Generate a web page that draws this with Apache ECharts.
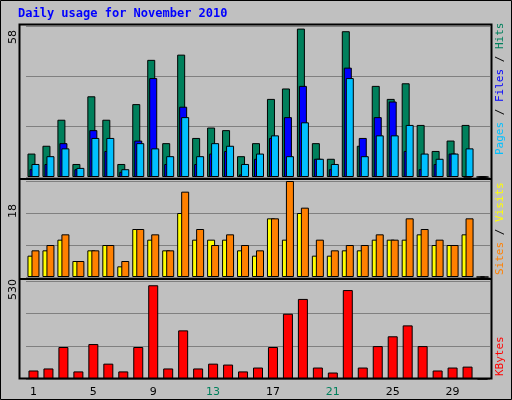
<!DOCTYPE html>
<html><head><meta charset="utf-8">
<script src="https://cdn.jsdelivr.net/npm/echarts@6/dist/echarts.min.js"></script>
<style>html,body{margin:0;padding:0;background:#c0c0c0}#c{width:512px;height:400px}</style>
</head><body><div id="c"></div>
<script>
const days = ['1','2','3','4','5','6','7','8','9','10','11','12','13','14','15','16','17','18','19','20','21','22','23','24','25','26','27','28','29','30','31'];
const weekend = ['6','7','13','14','20','21','27','28'];
const hits  = [9,12,22,5,31,22,5,28,45,13,47,15,19,18,8,13,30,34,57,13,7,56,12,35,30,36,20,10,14,20,0];
const files = [3,5,13,3,18,10,2,14,38,5,27,5,9,10,1,7,15,23,35,7,3,42,15,23,29,10,3,5,9,0,0];
const pages = [5,8,11,3.5,15,15,3,13,11,8,23,8,13,12,5,9,16,8,21,7,5,38,8,16,16,20,9,7,9,11,0];
const sites = [4,5,7,3,5,6,2,9,7,5,12,7,7,7,5,4,11,7,12,4,4,5,5,7,7,7,8,6,6,8,0];
const visits= [5,6,8,3,5,6,3,9,8,5,16,9,6,8,6,5,11,18,13,7,5,6,6,8,7,11,9,7,6,11,0];
const kbytes= [46,57,173,41,189,83,41,173,507,57,263,57,83,78,41,62,173,353,433,62,35,481,62,178,231,290,178,46,62,67,0];
const maxLabels = ['58','18','530'];
const maxVals = [58,18,530];

const chart = echarts.init(document.getElementById('c'));
const L=26, R=22;
const grids=[{left:L,right:R,top:26,height:151},{left:L,right:R,top:181,height:96},{left:L,right:R,top:281,height:98}];
function xa(i,show){return {type:'category',gridIndex:i,data:days,axisLine:{show:false},axisTick:{show:false},
  axisLabel:{show:show,margin:8,fontFamily:'DejaVu Sans',fontSize:11,color:'#000',
    formatter:v=>weekend.includes(v)?'{w|'+v+'}':v,rich:{w:{color:'#00805c',fontFamily:'DejaVu Sans',fontSize:11}}}};}
function ya(i){return {type:'value',gridIndex:i,min:0,max:maxVals[i],interval:maxVals[i]/3,axisLabel:{show:false},axisLine:{show:false},axisTick:{show:false},
  splitLine:{lineStyle:{color:'#808080',width:1}}};}
const bs={borderColor:'#000',borderWidth:1};
function bar(name,data,i,color,w,gap){return {name,type:'bar',xAxisIndex:i,yAxisIndex:i,data,barWidth:w,barGap:gap,
  itemStyle:Object.assign({color},bs),animation:false,silent:true};}
chart.setOption({
  backgroundColor:'#c0c0c0',
  grid:grids,
  xAxis:[xa(0,false),xa(1,false),xa(2,true)],
  yAxis:[ya(0),ya(1),ya(2)],
  series:[
    bar('Hits',hits,0,'#00805c',8,'-75%'),
    bar('Files',files,0,'#0000ff',8,'-75%'),
    bar('Pages',pages,0,'#00c0ff',8,'-75%'),
    bar('Sites',sites,1,'#ffff00',8,'-50%'),
    bar('Visits',visits,1,'#ff8000',8,'-50%'),
    bar('KBytes',kbytes,2,'#ff0000',10,'0%')
  ],
  graphic:[
    {type:'rect',shape:{x:0.5,y:0.5,width:511,height:399},style:{fill:'none',stroke:'#000',lineWidth:1},z:-1},
    {type:'rect',shape:{x:19.5,y:24.5,width:472,height:354},style:{fill:'none',stroke:'#000',lineWidth:2},z:10},
    {type:'line',shape:{x1:20,y1:179,x2:491,y2:179},style:{stroke:'#000',lineWidth:2},z:10},
    {type:'line',shape:{x1:20,y1:279,x2:491,y2:279},style:{stroke:'#000',lineWidth:2},z:10},
    {type:'text',left:18,top:8,style:{text:'Daily usage for November 2010',fill:'#0000ff',font:'bold 12px "DejaVu Sans Mono"'}},
    {type:'text',x:8,y:44,rotation:Math.PI/2,style:{text:maxLabels[0],fill:'#000',font:'11px "DejaVu Sans"'}},
    {type:'text',x:8,y:218,rotation:Math.PI/2,style:{text:maxLabels[1],fill:'#000',font:'11px "DejaVu Sans"'}},
    {type:'text',x:8,y:300,rotation:Math.PI/2,style:{text:maxLabels[2],fill:'#000',font:'11px "DejaVu Sans"'}},
    {type:'text',x:495,y:155,rotation:Math.PI/2,style:{text:'{p|Pages} / {f|Files} / {h|Hits}',fill:'#000',font:'11px "DejaVu Sans Mono"',
      rich:{p:{fill:'#00c0ff',font:'11px "DejaVu Sans Mono"'},f:{fill:'#0000ff',font:'11px "DejaVu Sans Mono"'},h:{fill:'#00805c',font:'11px "DejaVu Sans Mono"'}}}},
    {type:'text',x:495,y:275,rotation:Math.PI/2,style:{text:'{s|Sites} / {v|Visits}',fill:'#000',font:'11px "DejaVu Sans Mono"',
      rich:{s:{fill:'#ff8000',font:'11px "DejaVu Sans Mono"'},v:{fill:'#ffff00',font:'11px "DejaVu Sans Mono"'}}}},
    {type:'text',x:495,y:376,rotation:Math.PI/2,style:{text:'KBytes',fill:'#ff0000',font:'11px "DejaVu Sans Mono"'}}
  ]
});
</script></body></html>
